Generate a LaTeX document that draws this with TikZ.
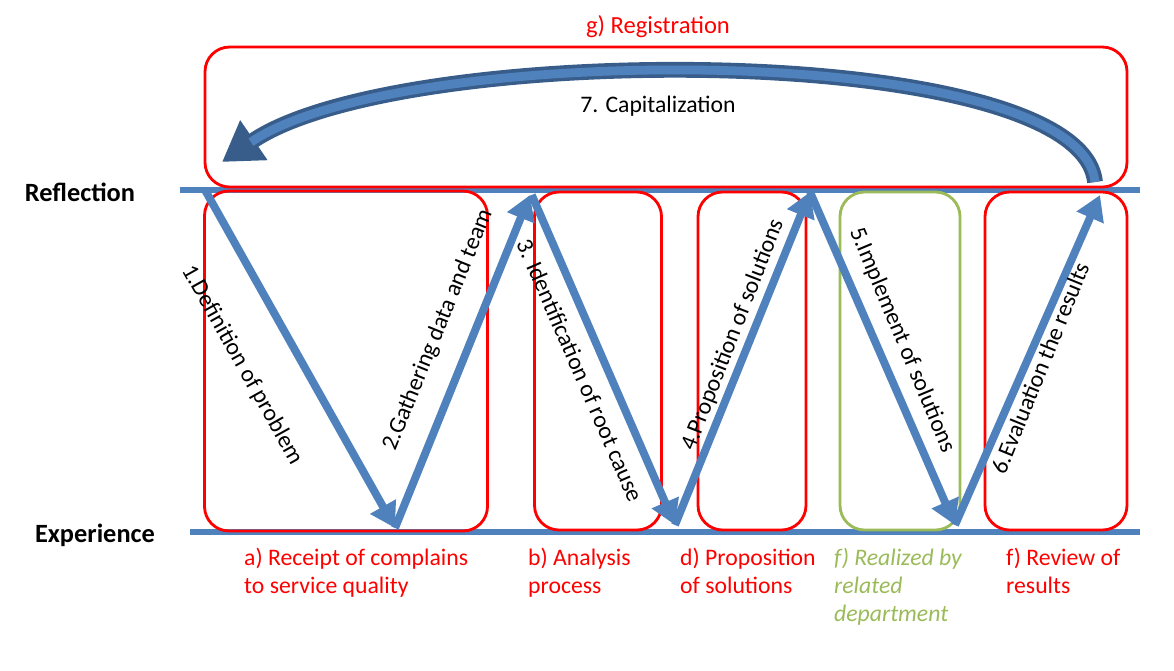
\documentclass[tikz,border=0pt]{standalone}
\usepackage{fontspec}
\setmainfont{Carlito}
\usepackage{xcolor}
\definecolor{flow-blue}{RGB}{79,129,189}
\definecolor{flow-dark}{RGB}{56,93,138}
\definecolor{box-red}{RGB}{255,0,0}
\definecolor{box-green}{RGB}{155,187,89}
\usetikzlibrary{arrows.meta,positioning}

\begin{document}
\begin{tikzpicture}[x=0.02cm,y=-0.02cm,
    phase box/.style={draw=#1, line width=1.6pt, rounded corners=14pt},
    axis line/.style={draw=flow-blue, line width=3pt},
    step arrow/.style={-{Triangle[length=14pt,width=16pt]}, flow-blue, line width=4.5pt},
    step label/.style={font=\fontsize{13.5}{15}\selectfont, text=black},
    phase label/.style={font=\fontsize{13.5}{16}\selectfont, text=box-red, align=left, anchor=north west},
    side label/.style={font=\bfseries\fontsize{15}{17}\selectfont}
]
\useasboundingbox (0,0) rectangle (1174,670);

% === AXES ===
\coordinate (r0) at (180,190);
\coordinate (r1) at (1140,190);
\coordinate (e0) at (190,532);
\coordinate (e1) at (1140,532);
\draw[axis line] (r0) -- (r1);
\draw[axis line] (e0) -- (e1);
\node[side label] (reflect) at (80,192) {Reflection};
\node[side label] (exper) at (95,535) {Experience};

% === BOXES ===
\node[phase box=box-red, minimum width=922*0.02cm, minimum height=140*0.02cm] (regbox) at (666,117) {};
\node[font=\fontsize{14}{16}\selectfont, text=box-red] (reg) at (658,27) {g) Registration};
\node[step label] (capit) at (658,106) {7. Capitalization};
\node[phase box=box-red, minimum width=283*0.02cm, minimum height=340*0.02cm] (boxa) at (346,361) {};
\node[phase box=box-red, minimum width=127*0.02cm, minimum height=338*0.02cm] (boxb) at (598,361) {};
\node[phase box=box-red, minimum width=108*0.02cm, minimum height=338*0.02cm] (boxd) at (752,361) {};
\node[phase box=box-green, minimum width=120*0.02cm, minimum height=338*0.02cm] (boxf) at (900,361) {};
\node[phase box=box-red, minimum width=142*0.02cm, minimum height=338*0.02cm] (boxr) at (1056,361) {};

% === CAPITALIZATION ARROW ===
\coordinate (capfrom) at (1095,182);
\coordinate (capto) at (222,162);
\draw[-{Triangle[length=22pt,width=26pt]}, flow-dark, line width=9pt]
    (capfrom) .. controls (1080,40) and (400,40) .. (capto);
\draw[flow-blue, line width=5pt, shorten >=20pt]
    (capfrom) .. controls (1080,40) and (400,40) .. (capto);

% === ZIGZAG ===
\coordinate (p1) at (205,190);
\coordinate (p2) at (395,528);
\coordinate (p3) at (530,195);
\coordinate (p4) at (675,525);
\coordinate (p5) at (810,192);
\coordinate (p6) at (955,525);
\coordinate (p7) at (1100,195);
\draw[step arrow] (p1) -- (p2);
\draw[step arrow] (p2) -- (p3);
\draw[step arrow] ([xshift=1pt]p3) -- (p4);
\draw[step arrow] (p4) -- (p5);
\draw[step arrow] (p5) -- (p6);
\draw[step arrow] (p6) -- (p7);

\node[step label, rotate=-60.7] (s1) at (242,365) {1.Definition of problem};
\node[step label, rotate=67.9] (s2) at (438,330) {2.Gathering data and team};
\node[step label, rotate=-66.5] (s3) at (580,370) {3. Identification of root cause};
\node[step label, rotate=68.7] (s4) at (733,335) {4.Proposition of solutions};
\node[step label, rotate=-67.3] (s5) at (902,340) {5.Implement of solutions};
\node[step label, rotate=67.9] (s6) at (1040,368) {6.Evaluation the results};

% === PHASE LABELS ===
\node[phase label] (la) at (238,542) {a) Receipt of complains\\to service quality};
\node[phase label] (lb) at (522,542) {b) Analysis\\process};
\node[phase label] (ld) at (674,542) {d) Proposition\\of solutions};
\node[phase label, text=box-green, font=\itshape\fontsize{13.5}{16}\selectfont] (lf) at (828,542) {f) Realized by\\related\\department};
\node[phase label] (lr) at (1000,542) {f) Review of\\results};
\end{tikzpicture}
\end{document}
